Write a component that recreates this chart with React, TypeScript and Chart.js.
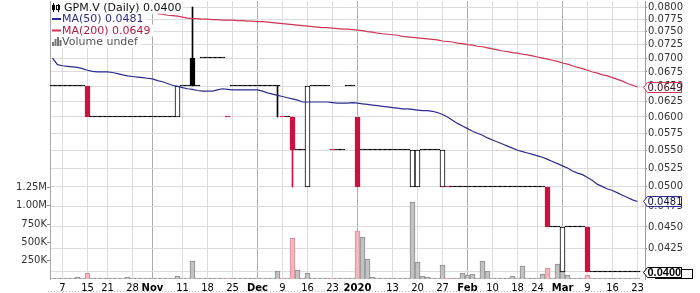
import React, { useEffect, useRef } from 'react';
import { Chart, registerables } from 'chart.js';

Chart.register(...registerables);

// ---------------- data ----------------
const dates: string[] = [
  '2019-10-03','2019-10-04','2019-10-07','2019-10-08','2019-10-09','2019-10-10','2019-10-11','2019-10-15','2019-10-16','2019-10-17',
  '2019-10-18','2019-10-21','2019-10-22','2019-10-23','2019-10-24','2019-10-25','2019-10-28','2019-10-29','2019-10-30','2019-10-31',
  '2019-11-01','2019-11-04','2019-11-05','2019-11-06','2019-11-07','2019-11-08','2019-11-11','2019-11-12','2019-11-13','2019-11-14',
  '2019-11-15','2019-11-18','2019-11-19','2019-11-20','2019-11-21','2019-11-22','2019-11-25','2019-11-26','2019-11-27','2019-11-28',
  '2019-11-29','2019-12-02','2019-12-03','2019-12-04','2019-12-05','2019-12-06','2019-12-09','2019-12-10','2019-12-11','2019-12-12',
  '2019-12-13','2019-12-16','2019-12-17','2019-12-18','2019-12-19','2019-12-20','2019-12-23','2019-12-24','2019-12-27','2019-12-30',
  '2019-12-31','2020-01-02','2020-01-03','2020-01-06','2020-01-07','2020-01-08','2020-01-09','2020-01-10','2020-01-13','2020-01-14',
  '2020-01-15','2020-01-16','2020-01-17','2020-01-20','2020-01-21','2020-01-22','2020-01-23','2020-01-24','2020-01-27','2020-01-28',
  '2020-01-29','2020-01-30','2020-01-31','2020-02-03','2020-02-04','2020-02-05','2020-02-06','2020-02-07','2020-02-10','2020-02-11',
  '2020-02-12','2020-02-13','2020-02-14','2020-02-18','2020-02-19','2020-02-20','2020-02-21','2020-02-24','2020-02-25','2020-02-26',
  '2020-02-27','2020-02-28','2020-03-02','2020-03-03','2020-03-04','2020-03-05','2020-03-06','2020-03-09','2020-03-10','2020-03-11',
  '2020-03-12','2020-03-13','2020-03-16','2020-03-17','2020-03-18','2020-03-19','2020-03-20','2020-03-23',
];

const opens: number[] = [
  .065,.065,.065,.065,.065,.065,.065,.065,.060,.060,
  .060,.060,.060,.060,.060,.060,.060,.060,.060,.060,
  .060,.060,.060,.060,.060,.060,.065,.065,.070,.065,
  .070,.070,.070,.070,.070,.060,.065,.065,.065,.065,
  .065,.065,.065,.065,.065,.065,.060,.060,.060,.055,
  .055,.050,.065,.065,.065,.065,.055,.055,.055,.065,
  .065,.060,.055,.055,.055,.055,.055,.055,.055,.055,
  .055,.055,.050,.050,.055,.055,.055,.055,.050,.050,
  .050,.050,.050,.050,.050,.050,.050,.050,.050,.050,
  .050,.050,.050,.050,.050,.050,.050,.050,.050,.050,
  .045,.045,.040,.045,.045,.045,.045,.045,.040,.040,
  .040,.040,.040,.040,.040,.040,.040,.040,
];
const highs: number[] = [
  .065,.065,.065,.065,.065,.065,.065,.065,.060,.060,
  .060,.060,.060,.060,.060,.060,.060,.060,.060,.060,
  .060,.060,.060,.060,.060,.065,.065,.065,.080,.065,
  .070,.070,.070,.070,.070,.060,.065,.065,.065,.065,
  .065,.065,.065,.065,.065,.065,.060,.060,.060,.055,
  .055,.065,.065,.065,.065,.065,.055,.055,.055,.065,
  .065,.060,.055,.055,.055,.055,.055,.055,.055,.055,
  .055,.055,.055,.055,.055,.055,.055,.055,.055,.050,
  .050,.050,.050,.050,.050,.050,.050,.050,.050,.050,
  .050,.050,.050,.050,.050,.050,.050,.050,.050,.050,
  .045,.045,.045,.045,.045,.045,.045,.045,.040,.040,
  .040,.040,.040,.040,.040,.040,.040,.040,
];
const lows: number[] = [
  .065,.065,.065,.065,.065,.065,.065,.060,.060,.060,
  .060,.060,.060,.060,.060,.060,.060,.060,.060,.060,
  .060,.060,.060,.060,.060,.060,.065,.065,.065,.065,
  .070,.070,.070,.070,.070,.060,.065,.065,.065,.065,
  .065,.065,.065,.065,.065,.060,.060,.060,.050,.055,
  .055,.050,.065,.065,.065,.065,.055,.055,.055,.065,
  .065,.050,.055,.055,.055,.055,.055,.055,.055,.055,
  .055,.055,.050,.050,.055,.055,.055,.055,.050,.050,
  .050,.050,.050,.050,.050,.050,.050,.050,.050,.050,
  .050,.050,.050,.050,.050,.050,.050,.050,.050,.045,
  .045,.045,.040,.045,.045,.045,.045,.040,.040,.040,
  .040,.040,.040,.040,.040,.040,.040,.040,
];
const closes: number[] = [
  .065,.065,.065,.065,.065,.065,.065,.060,.060,.060,
  .060,.060,.060,.060,.060,.060,.060,.060,.060,.060,
  .060,.060,.060,.060,.060,.065,.065,.065,.065,.065,
  .070,.070,.070,.070,.070,.060,.065,.065,.065,.065,
  .065,.065,.065,.065,.065,.065,.060,.060,.055,.055,
  .055,.065,.065,.065,.065,.065,.055,.055,.055,.065,
  .065,.050,.055,.055,.055,.055,.055,.055,.055,.055,
  .055,.055,.055,.055,.055,.055,.055,.055,.055,.050,
  .050,.050,.050,.050,.050,.050,.050,.050,.050,.050,
  .050,.050,.050,.050,.050,.050,.050,.050,.050,.045,
  .045,.045,.045,.045,.045,.045,.045,.040,.040,.040,
  .040,.040,.040,.040,.040,.040,.040,.040,
];

const volumes: number[] = [
  10000,0,0,0,0,25000,0,87000,0,0,
  0,0,0,0,0,28000,0,0,0,20000,
  0,0,20000,0,0,35000,0,0,240000,0,
  20000,0,0,0,0,12000,12000,0,0,0,
  0,0,0,0,0,110000,20000,0,555000,125000,
  0,80000,0,0,0,0,12000,0,10000,10000,
  0,650000,570000,280000,25000,0,0,10000,10000,0,
  0,15000,1050000,230000,35000,25000,0,0,195000,12000,
  0,0,85000,60000,70000,20000,245000,115000,15000,0,
  20000,20000,40000,0,175000,0,0,0,65000,150000,
  0,210000,230000,55000,0,0,0,55000,20000,0,
  0,0,0,0,0,0,0,0,
];

const ma50: number[] = [
  .0700,.0688,.0686,.0685,.0684,.0683,.0681,.0678,.0676,.0675,
  .0675,.0675,.0674,.0672,.0670,.0668,.0667,.0666,.0665,.0664,
  .0663,.0660,.0658,.0655,.0652,.0650,.0648,.0646,.0645,.0643,
  .0642,.0642,.0642,.0644,.0646,.0645,.0644,.0644,.0644,.0644,
  .0644,.0644,.0642,.0639,.0637,.0635,.0633,.0631,.0629,.0627,
  .0624,.0624,.0624,.0624,.0624,.0624,.0623,.0622,.0622,.0622,
  .0623,.0622,.0621,.0620,.0619,.0618,.0617,.0616,.0615,.0614,
  .0613,.0613,.0612,.0611,.0610,.0610,.0609,.0607,.0604,.0600,
  .0595,.0590,.0586,.0582,.0578,.0575,.0572,.0568,.0565,.0562,
  .0559,.0556,.0553,.0550,.0548,.0546,.0544,.0542,.0540,.0537,
  .0534,.0531,.0528,.0525,.0521,.0518,.0516,.0512,.0508,.0503,
  .0500,.0497,.0495,.0492,.0489,.0486,.0483,.0481,
];

const ma200: (number | null)[] = [
  null,null,null,null,null,null,null,null,null,null,
  null,null,null,null,null,null,null,null,null,null,
  null,.0786,.0785,.0783,.0782,.0781,.0779,.0777,.0776,.0776,
  .0775,.0775,.0774,.0774,.0773,.0773,.0773,.0772,.0772,.0771,
  .0771,.0770,.0770,.0769,.0768,.0767,.0766,.0765,.0764,.0763,
  .0762,.0761,.0760,.0759,.0758,.0758,.0757,.0756,.0755,.0755,
  .0754,.0753,.0752,.0750,.0749,.0747,.0746,.0745,.0744,.0743,
  .0741,.0740,.0739,.0738,.0737,.0736,.0735,.0734,.0732,.0731,
  .0730,.0728,.0727,.0725,.0724,.0722,.0721,.0719,.0717,.0715,
  .0713,.0712,.0710,.0709,.0707,.0706,.0704,.0702,.0700,.0698,
  .0696,.0694,.0691,.0689,.0686,.0683,.0681,.0678,.0675,.0673,
  .0670,.0668,.0665,.0662,.0659,.0655,.0652,.0649,
];

const priceTicks: number[] = [
  0.04, 0.0425, 0.045, 0.0475, 0.05, 0.0525, 0.055, 0.0575, 0.06,
  0.0625, 0.065, 0.0675, 0.07, 0.0725, 0.075, 0.0775, 0.08,
];
const priceMin = 0.03927;
const priceMax = 0.08127;

const volumeTicks: number[] = [250000, 500000, 750000, 1000000, 1250000];
const volumeTickLabels: string[] = ['250K', '500K', '750K', '1.00M', '1.25M'];
const volumeMax = 3800000;

const xTickDates: string[] = [
  '2019-10-07','2019-10-15','2019-10-21','2019-10-28','2019-11-01','2019-11-11','2019-11-18','2019-11-25',
  '2019-12-02','2019-12-09','2019-12-16','2019-12-23','2020-01-02','2020-01-13','2020-01-20','2020-01-27',
  '2020-02-03','2020-02-10','2020-02-18','2020-02-24','2020-03-02','2020-03-09','2020-03-16','2020-03-23',
];
const xTickLabels: string[] = [
  '7','15','21','28','Nov','11','18','25',
  'Dec','9','16','23','2020','13','20','27',
  'Feb','10','18','24','Mar','9','16','23',
];
const monthLabels: string[] = ['Nov', 'Dec', '2020', 'Feb', 'Mar'];

const symbolTitle = 'GPM.V (Daily)';
const ma50Title = 'MA(50)';
const ma200Title = 'MA(200)';
const volumeTitle = 'Volume undef';

// ---------------- styling ----------------
const FONT = "'DejaVu Sans', Verdana, sans-serif";
const RED = '#cc1040';
const BLACK = '#000000';
const MA50_COLOR = '#2c2c8c';
const MA200_COLOR = '#cf3554';

const n = dates.length;
const xLabels = dates.concat(['']);
const xTickIdx = xTickDates.map((d) => dates.indexOf(d));
const monthIdx = new Set(xTickIdx.filter((_, i) => monthLabels.includes(xTickLabels[i])));

const candleColor = closes.map((c, i) => (i > 0 && c < closes[i - 1] ? RED : BLACK));
const bodyData = opens.map((o, i) => [Math.min(o, closes[i]), Math.max(o, closes[i])]);
const bodyFill = opens.map((o, i) => (closes[i] > o ? '#ffffff' : candleColor[i]));
const wickData = opens.map((o, i) =>
  highs[i] > Math.max(o, closes[i]) || lows[i] < Math.min(o, closes[i]) ? [lows[i], highs[i]] : null
);
const volFill = candleColor.map((c) => (c === RED ? '#f3b5bf' : '#c2c2c2'));
const volBorder = candleColor.map((c) => (c === RED ? '#dc8a98' : '#8e8e8e'));

// snap bar edges to whole pixels so 1px dashes stay crisp
const snapPlugin = {
  id: 'snapBars',
  beforeDatasetsDraw(chart: any) {
    chart.data.datasets.forEach((_: any, i: number) => {
      const meta = chart.getDatasetMeta(i);
      if (meta.type !== 'bar') return;
      meta.data.forEach((el: any) => {
        if (el == null || !isFinite(el.y) || !isFinite(el.base)) return;
        let y = Math.round(el.y);
        const b = Math.round(el.base);
        if (y === b) y = b - 1;
        el.y = y;
        el.base = b;
      });
    });
  },
};

const overlayPlugin = {
  id: 'stockOverlay',
  afterDraw(chart: any) {
    const ctx: CanvasRenderingContext2D = chart.ctx;
    const ys = chart.scales.y;
    const area = chart.chartArea;
    ctx.save();

    // dotted baseline under the date labels
    ctx.strokeStyle = '#b8b8b8';
    ctx.lineWidth = 1;
    ctx.setLineDash([1, 2]);
    ctx.beginPath();
    ctx.moveTo(area.left - 2, 291.5);
    ctx.lineTo(area.right, 291.5);
    ctx.stroke();
    ctx.setLineDash([]);

    // legend
    const lx = area.left + 2;
    ctx.font = `11px ${FONT}`;
    ctx.textBaseline = 'middle';
    ctx.textAlign = 'left';
    const lines = [
      { text: `${symbolTitle} ${closes[n - 1].toFixed(4)}`, color: '#111111', y: 7.5 },
      { text: `${ma50Title} ${ma50[n - 1].toFixed(4)}`, color: MA50_COLOR, y: 19 },
      { text: `${ma200Title} ${(ma200[n - 1] as number).toFixed(4)}`, color: '#b51a44', y: 30.5 },
      { text: volumeTitle, color: '#555555', y: 42 },
    ];
    lines.forEach((l) => {
      const w = ctx.measureText(l.text).width;
      ctx.fillStyle = '#ffffff';
      ctx.fillRect(lx - 1, l.y - 6, w + 14, 12);
    });
    // candles icon
    ctx.fillStyle = '#000';
    ctx.fillRect(lx + 1, 3, 1, 9);
    ctx.fillRect(lx, 5, 3, 5);
    ctx.fillRect(lx + 6, 4, 1, 8);
    ctx.strokeStyle = '#000';
    ctx.strokeRect(lx + 4.5, 5.5, 3, 4);
    // MA dashes
    ctx.fillStyle = MA50_COLOR;
    ctx.fillRect(lx, 18, 9, 2);
    ctx.fillStyle = MA200_COLOR;
    ctx.fillRect(lx, 29.5, 9, 2);
    // volume icon
    ctx.fillStyle = '#777';
    [4, 7, 9, 6].forEach((h, i) => ctx.fillRect(lx + i * 2.5, 46 - h, 2, h));

    lines.forEach((l, i) => {
      ctx.fillStyle = l.color;
      ctx.fillText(l.text, i === 0 ? lx + 12 : lx + 10, l.y + 0.5);
    });

    // value tags on the price axis
    const x0 = area.right - 1.5;
    const x1 = 681.5;
    const tag = (v: number, text: string, stroke: string, tc: string, font: string) => {
      const yc = Math.round(ys.getPixelForValue(v)) + 0.5;
      ctx.beginPath();
      ctx.moveTo(x0, yc);
      ctx.lineTo(x0 + 4, yc - 5);
      ctx.lineTo(x1, yc - 5);
      ctx.lineTo(x1, yc + 5);
      ctx.lineTo(x0 + 4, yc + 5);
      ctx.closePath();
      ctx.fillStyle = '#ffffff';
      ctx.fill();
      ctx.strokeStyle = stroke;
      ctx.lineWidth = 1;
      ctx.stroke();
      ctx.fillStyle = tc;
      ctx.font = font;
      ctx.textBaseline = 'middle';
      ctx.fillText(text, x0 + 4, yc + 0.5);
    };
    tag(ma200[n - 1] as number, (ma200[n - 1] as number).toFixed(4), MA200_COLOR, '#3a0d18', `10px ${FONT}`);
    tag(ma50[n - 1], ma50[n - 1].toFixed(4), MA50_COLOR, '#101040', `10px ${FONT}`);
    const yl = Math.round(ys.getPixelForValue(closes[n - 1])) + 0.5;
    ctx.fillStyle = '#fff';
    ctx.fillRect(655.5, yl - 3, 37, 9);
    ctx.strokeStyle = '#000';
    ctx.strokeRect(655.5, yl - 3, 37, 9);
    tag(closes[n - 1], closes[n - 1].toFixed(4), '#000000', '#000000', `bold 11px 'Liberation Sans', Arial, sans-serif`);
    ctx.restore();
  },
};

export default function App() {
  const ref = useRef<HTMLCanvasElement>(null);
  useEffect(() => {
    const canvas = ref.current;
    if (!canvas) return;
    Chart.defaults.font.family = FONT;
    Chart.defaults.font.size = 10;
    Chart.defaults.color = '#222';
    const chart = new Chart(canvas, {
      type: 'bar',
      data: {
        labels: xLabels,
        datasets: [
          {
            type: 'line',
            label: ma50Title,
            data: ma50,
            yAxisID: 'y',
            borderColor: MA50_COLOR,
            borderWidth: 1.2,
            pointRadius: 0,
            tension: 0,
            order: 0,
          } as any,
          {
            type: 'line',
            label: ma200Title,
            data: ma200,
            yAxisID: 'y',
            borderColor: MA200_COLOR,
            borderWidth: 1.2,
            pointRadius: 0,
            tension: 0,
            spanGaps: false,
            order: 0,
          } as any,
          {
            type: 'bar',
            label: 'body',
            data: bodyData,
            yAxisID: 'y',
            backgroundColor: bodyFill,
            borderColor: candleColor,
            borderWidth: 1,
            borderSkipped: false,
            barPercentage: 1,
            categoryPercentage: 1,
            grouped: false,
            minBarLength: 1,
            order: 1,
          } as any,
          {
            type: 'bar',
            label: 'wick',
            data: wickData,
            yAxisID: 'y',
            backgroundColor: candleColor,
            borderWidth: 0,
            barThickness: 1,
            grouped: false,
            order: 2,
          } as any,
          {
            type: 'bar',
            label: volumeTitle,
            data: volumes,
            yAxisID: 'v',
            backgroundColor: volFill,
            borderColor: volBorder,
            borderWidth: 1,
            barPercentage: 1,
            categoryPercentage: 1,
            grouped: false,
            order: 3,
          } as any,
        ],
      },
      options: {
        responsive: false,
        animation: false,
        events: [],
        layout: { padding: { top: 1, left: 0, right: 0, bottom: 0 } },
        plugins: { legend: { display: false }, tooltip: { enabled: false } },
        scales: {
          x: {
            type: 'category',
            offset: true,
            grid: {
              offset: false,
              drawTicks: false,
              color: (c: any) => (c.tick && monthIdx.has(c.tick.value) ? '#ababab' : '#dcdcdc'),
            },
            border: { display: false },
            ticks: {
              autoSkip: false,
              maxRotation: 0,
              padding: 3,
              color: '#000',
              font: (c: any) => ({
                family: FONT,
                size: 10,
                weight: c.tick && monthIdx.has(c.tick.value) ? 'bold' : 'normal',
              }),
              callback: (v: any) => {
                const k = xTickIdx.indexOf(Number(v));
                return k >= 0 ? xTickLabels[k] : '';
              },
            },
            afterBuildTicks: (s: any) => {
              s.ticks = xTickIdx.map((v) => ({ value: v }));
            },
            afterFit: (s: any) => {
              s.height = 14;
              s.paddingLeft = 0;
              s.paddingRight = 0;
            },
          },
          y: {
            type: 'logarithmic',
            position: 'right',
            min: priceMin,
            max: priceMax,
            grid: { color: '#dcdcdc', tickLength: 2, tickColor: '#888' },
            border: { color: '#9a9a9a' },
            ticks: {
              autoSkip: false,
              padding: 1,
              color: '#333',
              callback: (v: any) => Number(v).toFixed(4),
            },
            afterBuildTicks: (s: any) => {
              s.ticks = priceTicks.map((v) => ({ value: v }));
            },
            afterFit: (s: any) => {
              s.width = 55;
              s.paddingTop = 0;
              s.paddingBottom = 0;
            },
          },
          v: {
            type: 'linear',
            position: 'left',
            min: 0,
            max: volumeMax,
            grid: { drawOnChartArea: false, tickLength: 3, color: '#888' },
            border: { color: '#aaaaaa' },
            ticks: {
              autoSkip: false,
              padding: 0,
              color: '#333',
              callback: (v: any) => {
                const k = volumeTicks.indexOf(Number(v));
                return k >= 0 ? volumeTickLabels[k] : '';
              },
            },
            afterBuildTicks: (s: any) => {
              s.ticks = volumeTicks.map((v) => ({ value: v }));
            },
            afterFit: (s: any) => {
              s.width = 50;
              s.paddingTop = 0;
              s.paddingBottom = 0;
            },
          },
        },
      } as any,
      plugins: [snapPlugin, overlayPlugin],
    });
    return () => chart.destroy();
  }, []);

  return (
    <div style={{ position: 'fixed', left: 0, top: 0, width: 700, height: 293, background: '#fff' }}>
      <canvas ref={ref} width={700} height={293} style={{ display: 'block', width: 700, height: 293 }} />
    </div>
  );
}
